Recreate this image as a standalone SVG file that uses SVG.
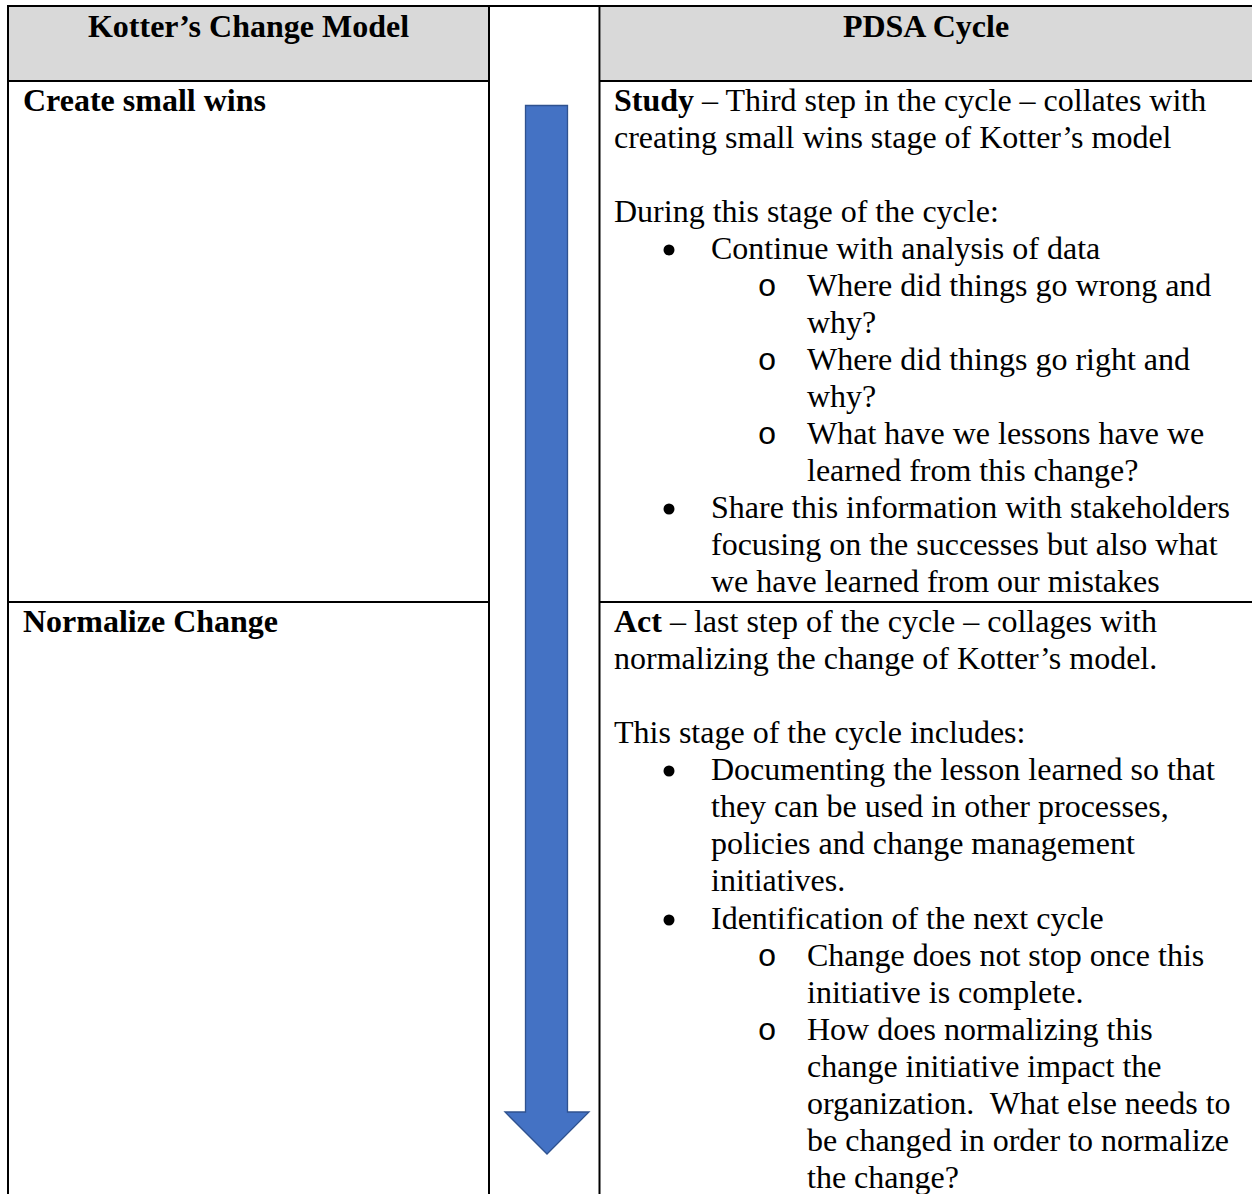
<svg xmlns="http://www.w3.org/2000/svg" width="1252" height="1194" viewBox="0 0 1252 1194">
  <style>
    text { font-family: "Liberation Serif", "Times New Roman", serif; font-size: 32px; fill: #000; }
    .b { font-weight: bold; }
    .h { font-weight: bold; text-anchor: middle; }
    .o { font-family: "Liberation Mono", "Courier New", monospace; text-anchor: middle; }
    .grid { stroke: #000; stroke-width: 2; fill: none; }
    .hdr { fill: #D9D9D9; }
    .dot { fill: #000; }
  </style>

  <rect width="1252" height="1194" fill="#fff"/>

  <!-- header shading -->
  <g id="header">
    <rect class="hdr" x="9" y="7" width="479" height="73"/>
    <rect class="hdr" x="601" y="7" width="651" height="73"/>
    <text class="h" x="248.5" y="37">Kotter’s Change Model</text>
    <text class="h" x="926" y="37">PDSA Cycle</text>
  </g>

  <!-- table rules -->
  <g id="grid" class="grid">
    <line x1="8" y1="6" x2="1252" y2="6"/>
    <line x1="8" y1="5" x2="8" y2="1194"/>
    <line x1="489" y1="5" x2="489" y2="1194"/>
    <line x1="599.5" y1="5" x2="599.5" y2="1194"/>
    <line x1="8" y1="81" x2="489" y2="81"/>
    <line x1="599.5" y1="81" x2="1252" y2="81"/>
    <line x1="8" y1="602" x2="489" y2="602"/>
    <line x1="599.5" y1="602" x2="1252" y2="602"/>
  </g>

  <!-- row 1: small wins / study -->
  <g id="kotter-small-wins">
    <text class="b" x="23" y="111">Create small wins</text>
  </g>
  <g id="pdsa-study">
    <text x="614" y="111"><tspan class="b">Study</tspan> – Third step in the cycle – collates with</text>
    <text x="614" y="148">creating small wins stage of Kotter’s model</text>
    <text x="614" y="222">During this stage of the cycle:</text>
    <circle class="dot" cx="669" cy="250" r="5.5"/>
    <text x="711" y="259">Continue with analysis of data</text>
    <text class="o" x="767" y="296">o</text>
    <text x="807" y="296">Where did things go wrong and</text>
    <text x="807" y="333">why?</text>
    <text class="o" x="767" y="370">o</text>
    <text x="807" y="370">Where did things go right and</text>
    <text x="807" y="407">why?</text>
    <text class="o" x="767" y="444">o</text>
    <text x="807" y="444">What have we lessons have we</text>
    <text x="807" y="481">learned from this change?</text>
    <circle class="dot" cx="669" cy="509" r="5.5"/>
    <text x="711" y="518">Share this information with stakeholders</text>
    <text x="711" y="555">focusing on the successes but also what</text>
    <text x="711" y="592">we have learned from our mistakes</text>
  </g>

  <!-- row 2: normalize / act -->
  <g id="kotter-normalize">
    <text class="b" x="23" y="632">Normalize Change</text>
  </g>
  <g id="pdsa-act">
    <text x="614" y="632"><tspan class="b">Act</tspan> – last step of the cycle – collages with</text>
    <text x="614" y="669">normalizing the change of Kotter’s model.</text>
    <text x="614" y="743">This stage of the cycle includes:</text>
    <circle class="dot" cx="669" cy="771" r="5.5"/>
    <text x="711" y="780">Documenting the lesson learned so that</text>
    <text x="711" y="817">they can be used in other processes,</text>
    <text x="711" y="854">policies and change management</text>
    <text x="711" y="891">initiatives.</text>
    <circle class="dot" cx="669" cy="920" r="5.5"/>
    <text x="711" y="929">Identification of the next cycle</text>
    <text class="o" x="767" y="966">o</text>
    <text x="807" y="966">Change does not stop once this</text>
    <text x="807" y="1003">initiative is complete.</text>
    <text class="o" x="767" y="1040">o</text>
    <text x="807" y="1040">How does normalizing this</text>
    <text x="807" y="1077">change initiative impact the</text>
    <text x="807" y="1114" xml:space="preserve">organization.  What else needs to</text>
    <text x="807" y="1151">be changed in order to normalize</text>
    <text x="807" y="1188">the change?</text>
  </g>

  <!-- downward progression arrow -->
  <g id="connectors">
    <path d="M525.5,105.5 H567.5 V1112 H589 L547,1154 L505,1112 H525.5 Z" fill="#4472C4" stroke="#2F528F" stroke-width="1.3" stroke-linejoin="miter"/>
  </g>
</svg>
